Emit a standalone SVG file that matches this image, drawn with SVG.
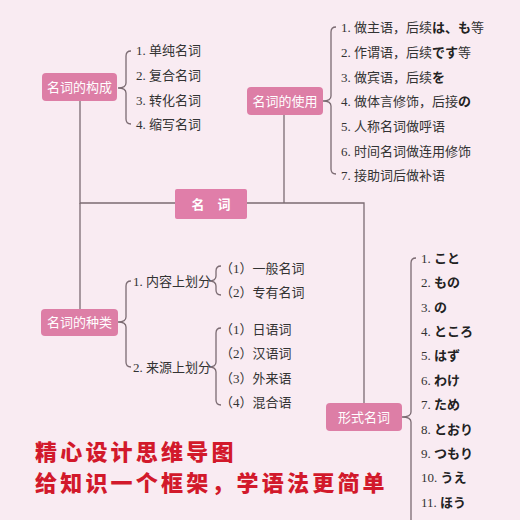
<svg xmlns="http://www.w3.org/2000/svg" width="520" height="520" viewBox="0 0 520 520">
<style>
.bg{fill:#f9ebf2}
.node rect{fill:#dd7ea6}
.node text{fill:#ffffff;font-family:"Liberation Serif","Noto Sans CJK SC",serif;font-size:13px;text-anchor:middle}
.ln{fill:none;stroke:#7b6b72;stroke-width:1.3}
.it{fill:#333333;font-family:"Liberation Serif","Noto Sans CJK SC",serif;font-size:13px}
.k{font-family:"Noto Sans CJK JP",sans-serif;font-weight:bold;font-size:13px;fill:#222222}
.red{fill:#d2192b;font-family:"Noto Sans CJK SC",sans-serif;font-weight:900;font-size:22px;letter-spacing:3.2px}
</style>
<rect class="bg" x="0" y="0" width="520" height="520"/>
<g id="connectors">
<path class="ln" d="M80 101 V203 H364 V403"/>
<path class="ln" d="M80 203 V309"/>
<path class="ln" d="M284 115 V203"/>
<path class="ln" d="M131 51 Q126 51 126 56 V83 Q126 88 118 88 Q126 88 126 93 V119 Q126 124 131 124"/>
<path class="ln" d="M336 27 Q331 27 331 32 V96 Q331 101 323 101 Q331 101 331 106 V169 Q331 174 336 174"/>
<path class="ln" d="M131 281 Q126 281 126 286 V317 Q126 322 118 322 Q126 322 126 327 V362 Q126 367 131 367"/>
<path class="ln" d="M221 266 Q216 266 216 271 V276 Q216 281 209 281 Q216 281 216 286 V290 Q216 295 221 295"/>
<path class="ln" d="M221 328 Q216 328 216 333 V362 Q216 367 209 367 Q216 367 216 372 V400 Q216 405 221 405"/>
<path class="ln" d="M416 258 Q411 258 411 263 V412 Q411 417 402 417 Q411 417 411 422 V520"/>
</g>
<g id="n-center" class="node"><rect x="175" y="189" width="72" height="30" rx="2" style="fill:#e07ea9"/><text x="211" y="209" style="font-weight:bold">名　词</text></g>
<g id="n-gouc" class="node"><rect x="42" y="73" width="75" height="28" rx="4"/><text x="79.5" y="92">名词的构成</text></g>
<g id="n-shiyong" class="node"><rect x="247" y="87" width="76" height="28" rx="4"/><text x="285" y="106">名词的使用</text></g>
<g id="n-zhonglei" class="node"><rect x="41" y="309" width="77" height="27" rx="4"/><text x="79.5" y="327">名词的种类</text></g>
<g id="n-xingshi" class="node"><rect x="326" y="403" width="76" height="28" rx="4"/><text x="364" y="422">形式名词</text></g>
<g id="items-gouc">
<text class="it" x="136" y="55">1. 单纯名词</text>
<text class="it" x="136" y="80">2. 复合名词</text>
<text class="it" x="136" y="105">3. 转化名词</text>
<text class="it" x="136" y="129">4. 缩写名词</text>
</g>
<g id="items-shiyong">
<text class="it" x="341" y="31.5">1. 做主语，后续<tspan class="k">は、も</tspan>等</text>
<text class="it" x="341" y="56.5">2. 作谓语，后续<tspan class="k">です</tspan>等</text>
<text class="it" x="341" y="81.5">3. 做宾语，后续<tspan class="k">を</tspan></text>
<text class="it" x="341" y="105.5">4. 做体言修饰，后接<tspan class="k">の</tspan></text>
<text class="it" x="341" y="130.5">5. 人称名词做呼语</text>
<text class="it" x="341" y="155.5">6. 时间名词做连用修饰</text>
<text class="it" x="341" y="179.5">7. 接助词后做补语</text>
</g>
<g id="items-zhonglei">
<text class="it" x="133" y="285.5">1. 内容上划分</text>
<text class="it" x="133" y="371.5">2. 来源上划分</text>
<text class="it" x="220" y="272.5">（1）一般名词</text>
<text class="it" x="220" y="296.5">（2）专有名词</text>
<text class="it" x="220" y="333.5">（1）日语词</text>
<text class="it" x="220" y="357.5">（2）汉语词</text>
<text class="it" x="220" y="382.5">（3）外来语</text>
<text class="it" x="220" y="406.5">（4）混合语</text>
</g>
<g id="items-xingshi">
<text class="it" x="421" y="263">1. <tspan class="k">こと</tspan></text>
<text class="it" x="421" y="287">2. <tspan class="k">もの</tspan></text>
<text class="it" x="421" y="312">3. <tspan class="k">の</tspan></text>
<text class="it" x="421" y="336">4. <tspan class="k">ところ</tspan></text>
<text class="it" x="421" y="360">5. <tspan class="k">はず</tspan></text>
<text class="it" x="421" y="385">6. <tspan class="k">わけ</tspan></text>
<text class="it" x="421" y="409">7. <tspan class="k">ため</tspan></text>
<text class="it" x="421" y="434">8. <tspan class="k">とおり</tspan></text>
<text class="it" x="421" y="458">9. <tspan class="k">つもり</tspan></text>
<text class="it" x="421" y="482">10. <tspan class="k">うえ</tspan></text>
<text class="it" x="421" y="507">11. <tspan class="k">ほう</tspan></text>
</g>
<text class="red" x="35" y="460">精心设计思维导图</text>
<text class="red" x="35" y="491">给知识一个框架，学语法更简单</text>
</svg>
